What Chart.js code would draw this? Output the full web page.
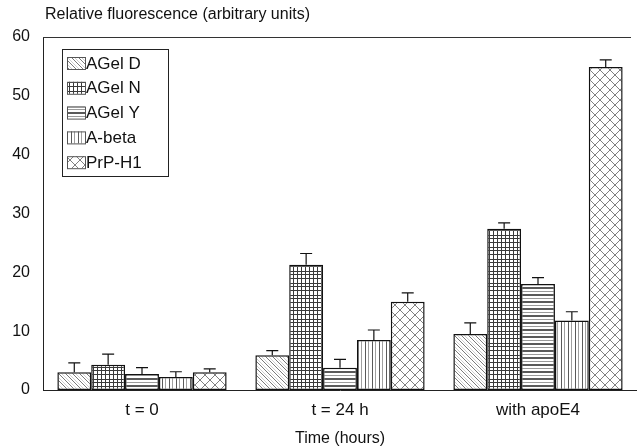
<!DOCTYPE html>
<html>
<head>
<meta charset="utf-8">
<script src="https://cdn.jsdelivr.net/npm/chart.js@4/dist/chart.umd.min.js"></script>
<style>
  html, body { margin: 0; padding: 0; background: #fff; }
  #wrap { width: 637px; height: 448px; }
</style>
</head>
<body>
<div id="wrap"><canvas id="chart" width="637" height="448"></canvas></div>
<script>
const categories = ["t = 0", "t = 24 h", "with apoE4"];
const seriesNames = ["AGel D", "AGel N", "AGel Y", "A-beta", "PrP-H1"];

// mean values per category
const aGelD = [3.0, 5.9, 9.5];
const aGelN = [4.3, 21.3, 27.4];
const aGelY = [2.7, 3.8, 18.0];
const aBeta = [2.2, 8.5, 11.8];
const prpH1 = [3.0, 15.0, 54.9];

// upper error (added to the mean)
const aGelDErr = [1.6, 0.8, 1.9];
const aGelNErr = [1.8, 1.9, 1.0];
const aGelYErr = [1.1, 1.4, 1.1];
const aBetaErr = [0.9, 1.7, 1.5];
const prpH1Err = [0.6, 1.5, 1.2];

const yTicks = [0, 10, 20, 30, 40, 50, 60];

const FONT = "'Liberation Sans', Arial, sans-serif";
const FS = 17;

// hatch fills like the old printed figure
function makePattern(kind) {
  const c = document.createElement("canvas");
  let s = 7;
  if (kind === "grid") s = 12;
  if (kind === "cross") s = 10;
  c.width = s; c.height = s;
  const g = c.getContext("2d");
  g.fillStyle = "#fff";
  g.fillRect(0, 0, s, s);
  g.lineWidth = 1;
  if (kind === "diag") {
    g.strokeStyle = "#7a7a7a";
    for (const k of [-s, 0, s]) {
      g.beginPath();
      g.moveTo(k, 0);
      g.lineTo(k + s, s);
      g.stroke();
    }
    g.strokeStyle = "#d0d0d0";
    for (const k of [-s, 0, s]) {
      g.beginPath();
      g.moveTo(k + 3, 0);
      g.lineTo(k + 3 + s, s);
      g.stroke();
    }
  } else if (kind === "grid") {
    g.strokeStyle = "#3a3a3a";
    [1.5, 5.5, 9.5].forEach((x) => { g.beginPath(); g.moveTo(x, 0); g.lineTo(x, s); g.stroke(); });
    [2.5, 7.5, 10.5].forEach((y) => { g.beginPath(); g.moveTo(0, y); g.lineTo(s, y); g.stroke(); });
  } else if (kind === "horiz") {
    g.fillStyle = "#5a5a5a";
    g.fillRect(0, 0, s, 2);
    g.fillStyle = "#9a9a9a";
    g.fillRect(0, 4, s, 1);
  } else if (kind === "vert") {
    g.fillStyle = "#5a5a5a";
    g.fillRect(1, 0, 1, s);
    g.fillStyle = "#a0a0a0";
    g.fillRect(4, 0, 1, s);
  } else if (kind === "cross") {
    g.strokeStyle = "#808080";
    for (const k of [-s, 0, s]) {
      g.beginPath(); g.moveTo(k, 0); g.lineTo(k + s, s); g.stroke();
      g.beginPath(); g.moveTo(k + s, 0); g.lineTo(k, s); g.stroke();
    }
  }
  return g.createPattern(c, "repeat");
}

const patterns = [
  makePattern("diag"),
  makePattern("grid"),
  makePattern("horiz"),
  makePattern("vert"),
  makePattern("cross"),
];
const values = [aGelD, aGelN, aGelY, aBeta, prpH1];
const errors = [aGelDErr, aGelNErr, aGelYErr, aBetaErr, prpH1Err];

const datasets = seriesNames.map((name, i) => ({
  label: name,
  data: values[i],
  errors: errors[i],
  backgroundColor: patterns[i],
  borderColor: "#111",
  borderWidth: 1.5,
  borderSkipped: false,
  categoryPercentage: 0.855,
  barPercentage: 1.0,
}));

// error bars, plot frame top line, headings and legend
const extras = {
  id: "extras",
  afterDatasetsDraw(chart) {
    const ctx = chart.ctx;
    const y = chart.scales.y;
    const area = chart.chartArea;
    ctx.save();
    ctx.strokeStyle = "#111";
    ctx.lineWidth = 1.2;
    chart.data.datasets.forEach((ds, i) => {
      const meta = chart.getDatasetMeta(i);
      meta.data.forEach((bar, j) => {
        const top = y.getPixelForValue(ds.data[j] + ds.errors[j]);
        ctx.beginPath();
        ctx.moveTo(bar.x, bar.y);
        ctx.lineTo(bar.x, top);
        ctx.moveTo(bar.x - 6, top);
        ctx.lineTo(bar.x + 6, top);
        ctx.stroke();
      });
    });

    // top edge of the frame
    ctx.strokeStyle = "#333";
    ctx.lineWidth = 1;
    ctx.beginPath();
    ctx.moveTo(area.left, area.top + 0.5);
    ctx.lineTo(area.right - 6, area.top + 0.5);
    ctx.stroke();

    // y axis heading
    ctx.fillStyle = "#111";
    ctx.font = "16px " + FONT;
    ctx.textBaseline = "middle";
    ctx.textAlign = "left";
    ctx.fillText("Relative fluorescence (arbitrary units)", area.left + 2, 15);

    // legend box
    const lx = 62, ly = 49, lw = 106, lh = 127;
    ctx.fillStyle = "#fff";
    ctx.fillRect(lx, ly, lw, lh);
    ctx.strokeStyle = "#222";
    ctx.lineWidth = 1;
    ctx.strokeRect(lx + 0.5, ly + 0.5, lw, lh);
    ctx.font = FS + "px " + FONT;
    chart.data.datasets.forEach((ds, i) => {
      const cy = ly + 14 + i * 24.8;
      ctx.fillStyle = ds.backgroundColor;
      ctx.fillRect(67, cy - 6, 18, 12);
      ctx.strokeStyle = "#555";
      ctx.strokeRect(67.5, cy - 5.5, 18, 12);
      ctx.fillStyle = "#111";
      ctx.fillText(ds.label, 86, cy + 1);
    });
    ctx.restore();
  },
};

new Chart(document.getElementById("chart"), {
  type: "bar",
  data: { labels: categories, datasets: datasets },
  options: {
    responsive: false,
    animation: false,
    layout: { padding: { top: 37, right: 0, left: 0, bottom: 0 } },
    plugins: {
      legend: { display: false },
      tooltip: { enabled: false },
    },
    scales: {
      x: {
        grid: { display: false, drawTicks: false },
        border: { display: true, color: "#222", width: 1 },
        ticks: { color: "#111", font: { family: FONT, size: FS }, padding: 10 },
        title: {
          display: true,
          text: "Time (hours)",
          color: "#111",
          font: { family: FONT, size: 16 },
          padding: { top: 12, bottom: 0 },
        },
        afterFit(scale) { scale.height = 58; },
      },
      y: {
        min: 0,
        max: 60,
        afterBuildTicks(scale) { scale.ticks = yTicks.map((v) => ({ value: v })); },
        grid: { display: false, drawTicks: false },
        border: { display: true, color: "#222", width: 1 },
        ticks: { color: "#111", font: { family: FONT, size: 16 }, padding: 13 },
        afterFit(scale) { scale.width = 43; },
      },
    },
  },
  plugins: [extras],
});
</script>
</body>
</html>
